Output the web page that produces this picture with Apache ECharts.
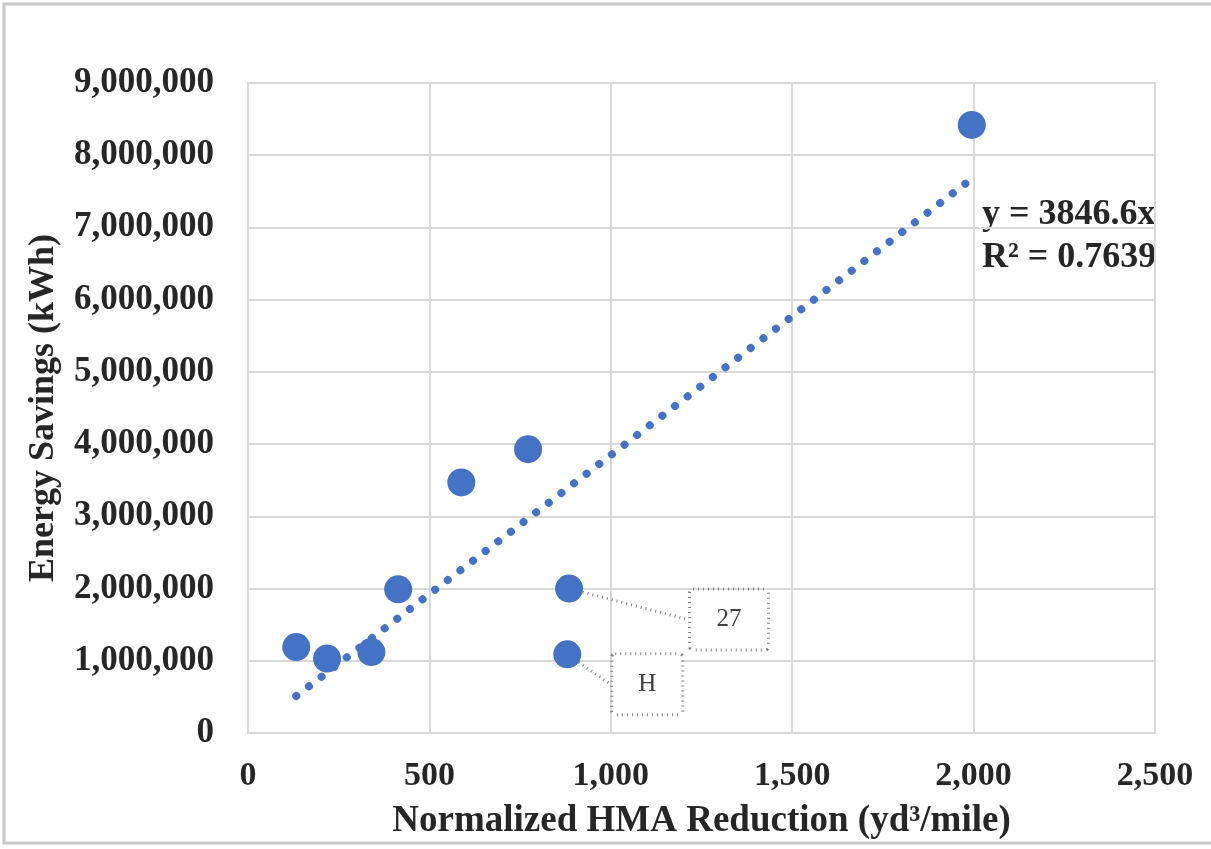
<!DOCTYPE html>
<html>
<head>
<meta charset="utf-8">
<script src="https://cdn.jsdelivr.net/npm/echarts@6/dist/echarts.min.js"></script>
<style>
  html, body { margin: 0; padding: 0; background: #fff; }
  #chart { width: 1211px; height: 849px; }
</style>
</head>
<body>
<div id="chart"></div>
<script>
// data
var hmaReduction = [133, 218, 340, 414, 588, 772, 885, 880, 1995];
var energySavings = [1190000, 1030000, 1120000, 1990000, 3470000, 3930000, 2000000, 1090000, 8420000];
var pointLabels = ["", "", "", "", "", "", "27", "H", ""];
var slope = 3846.6;
var rSquared = 0.7639;

var font = "'Liberation Serif', 'Times New Roman', serif";
var blue = "#4472C4";

var chart = echarts.init(document.getElementById("chart"));

// trendline y = slope * x from min to max x
var xMin = Math.min.apply(null, hmaReduction);
var xMax = Math.max.apply(null, hmaReduction);
var trend = [[xMin, slope * xMin], [xMax, slope * xMax]];

// label box offsets / widths for the two callouts
var labelShift = { "27": [146, 31], "H": [66, 30] };
var labelWidth = { "27": 48, "H": 40 };

var points = hmaReduction.map(function (x, i) {
  var item = { value: [x, energySavings[i]] };
  var t = pointLabels[i];
  if (t) {
    item.label = {
      show: true,
      formatter: t,
      position: "right",
      distance: 0,
      fontFamily: font,
      fontSize: 25,
      color: "#404040",
      width: labelWidth[t],
      height: 30,
      align: "center",
      verticalAlign: "middle",
      lineHeight: 30,
      padding: [14, 14],
      borderColor: "#808080",
      borderWidth: 3,
      borderType: [1, 4],
      borderRadius: 2,
      backgroundColor: "#fff"
    };
    item.labelLine = {
      show: true,
      lineStyle: { color: "#808080", width: 3, type: [1, 4] }
    };
  }
  return item;
});

chart.setOption({
  animation: false,
  backgroundColor: "#fff",
  grid: {
    left: 248, right: 56, top: 83, bottom: 116,
    show: true, borderColor: "#d9d9d9", borderWidth: 2
  },
  xAxis: {
    type: "value",
    min: 0, max: 2500, interval: 500,
    name: "Normalized HMA Reduction (yd³/mile)",
    nameLocation: "middle",
    nameGap: 70,
    nameTextStyle: { fontFamily: font, fontWeight: "bold", fontSize: 37, color: "#262626" },
    axisLine: { show: false },
    axisTick: { show: false },
    axisLabel: {
      margin: 26,
      fontFamily: font, fontWeight: "bold", fontSize: 34, color: "#262626",
      formatter: function (v) { return v.toLocaleString("en-US"); }
    },
    splitLine: { lineStyle: { color: "#d9d9d9", width: 2 } }
  },
  yAxis: {
    type: "value",
    min: 0, max: 9000000, interval: 1000000,
    name: "Energy Savings (kWh)",
    nameLocation: "middle",
    nameGap: 186,
    nameTextStyle: { fontFamily: font, fontWeight: "bold", fontSize: 36, color: "#262626" },
    axisLine: { show: false },
    axisTick: { show: false },
    axisLabel: {
      margin: 34,
      fontFamily: font, fontWeight: "bold", fontSize: 35, color: "#262626",
      formatter: function (v) { return v.toLocaleString("en-US"); }
    },
    splitLine: { lineStyle: { color: "#d9d9d9", width: 2 } }
  },
  graphic: [
    {
      type: "rect",
      shape: { x: 4, y: 4, width: 1220, height: 839 },
      style: { fill: "none", stroke: "#c8c8c8", lineWidth: 3 },
      silent: true
    },
    {
      type: "text",
      left: 982, top: 193,
      style: {
        text: "y = " + slope + "x\nR² = " + rSquared,
        fontFamily: font, fontWeight: "bold", fontSize: 36, lineHeight: 43,
        fill: "#262626"
      }
    }
  ],
  series: [
    {
      type: "line",
      data: trend,
      symbol: "none",
      z: 1,
      lineStyle: { color: blue, width: 8, type: [0.1, 15.8], cap: "round" }
    },
    {
      type: "scatter",
      data: points,
      symbolSize: 28,
      z: 3,
      itemStyle: { color: blue, opacity: 1 },
      labelLayout: function (params) {
        var s = labelShift[params.text];
        return s ? { dx: s[0], dy: s[1] } : {};
      }
    }
  ]
});
</script>
</body>
</html>
